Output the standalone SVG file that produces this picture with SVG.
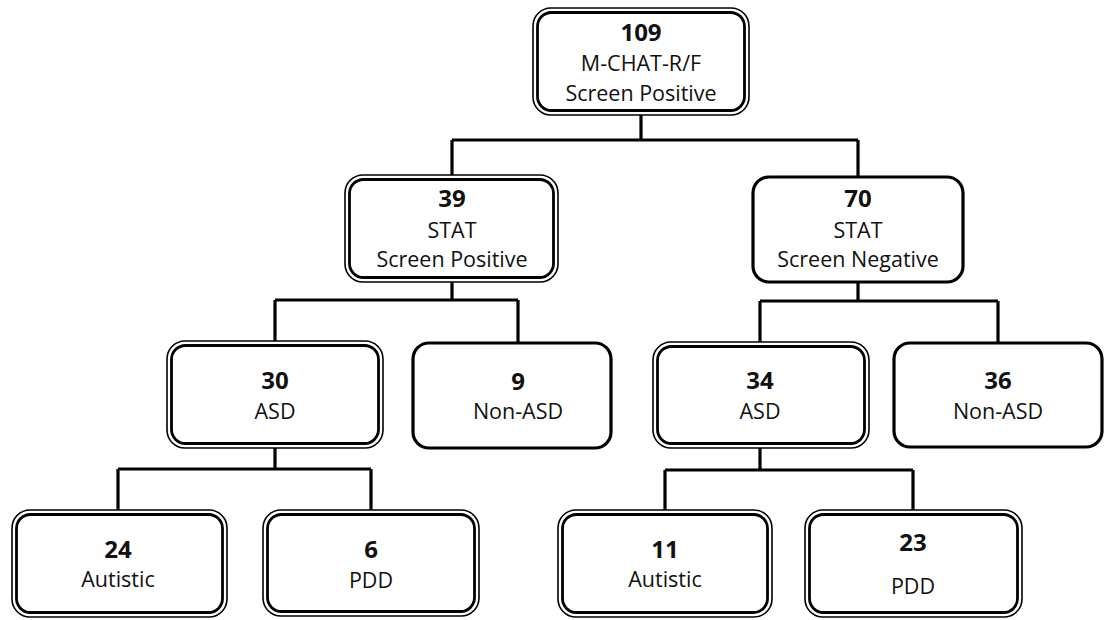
<svg xmlns="http://www.w3.org/2000/svg" width="1105" height="620" viewBox="0 0 1105 620">
<style>
.bg{fill:#fff}
.outer{fill:#fff;stroke:#000;stroke-width:1.6}
.inner{fill:none;stroke:#000;stroke-width:2.8}
.single{fill:#fff;stroke:#000;stroke-width:3.2}
.conn{fill:none;stroke:#000;stroke-width:3.2}
text{font-family:"Open Sans","Liberation Sans",sans-serif;fill:#111;text-anchor:middle}
.num{font-weight:bold;font-size:24px}
.lbl{font-size:21.5px}
</style>
<rect class="bg" x="0" y="0" width="1105" height="620"/>
<g id="connectors">
<path class="conn" d="M641 115 V140 M452 140 H858 M452 140 V175 M858 140 V177"/>
<path class="conn" d="M452 282 V300 M275 300 H518 M275 300 V341 M518 300 V343"/>
<path class="conn" d="M858 282 V301 M760 301 H998 M760 301 V342 M998 301 V343"/>
<path class="conn" d="M275 448 V469 M118 469 H371 M118 469 V510 M371 469 V510"/>
<path class="conn" d="M760 448 V470 M665 470 H913 M665 470 V510 M913 470 V510"/>
</g>
<g id="n109">
<rect class="outer" x="533" y="8" width="216" height="107" rx="18"/>
<rect class="inner" x="537.5" y="12.5" width="207" height="98" rx="14"/>
<text class="num" x="641" y="41">109</text>
<text class="lbl" x="641" y="71">M-CHAT-R/F</text>
<text class="lbl" x="641" y="100.5">Screen Positive</text>
</g>
<g id="n39">
<rect class="outer" x="345" y="175" width="213" height="107" rx="18"/>
<rect class="inner" x="349.5" y="179.5" width="204" height="98" rx="14"/>
<text class="num" x="452" y="207">39</text>
<text class="lbl" x="452" y="237.5">STAT</text>
<text class="lbl" x="452" y="267">Screen Positive</text>
</g>
<g id="n70">
<rect class="single" x="753" y="177" width="210" height="105" rx="16"/>
<text class="num" x="858" y="207">70</text>
<text class="lbl" x="858" y="237.5">STAT</text>
<text class="lbl" x="858" y="267">Screen Negative</text>
</g>
<g id="n30">
<rect class="outer" x="167" y="341" width="216" height="107" rx="18"/>
<rect class="inner" x="171.5" y="345.5" width="207" height="98" rx="14"/>
<text class="num" x="275" y="389">30</text>
<text class="lbl" x="275" y="419">ASD</text>
</g>
<g id="n9">
<rect class="single" x="413" y="343" width="198" height="105" rx="16"/>
<text class="num" x="518" y="390">9</text>
<text class="lbl" x="518" y="419">Non-ASD</text>
</g>
<g id="n34">
<rect class="outer" x="653" y="342" width="216" height="106" rx="18"/>
<rect class="inner" x="657.5" y="346.5" width="207" height="97" rx="14"/>
<text class="num" x="760" y="389">34</text>
<text class="lbl" x="760" y="419">ASD</text>
</g>
<g id="n36">
<rect class="single" x="894" y="343" width="208" height="104" rx="16"/>
<text class="num" x="998" y="389">36</text>
<text class="lbl" x="998" y="419">Non-ASD</text>
</g>
<g id="n24">
<rect class="outer" x="12" y="510" width="215" height="107" rx="18"/>
<rect class="inner" x="16.5" y="514.5" width="206" height="98" rx="14"/>
<text class="num" x="118" y="558">24</text>
<text class="lbl" x="118" y="587">Autistic</text>
</g>
<g id="n6">
<rect class="outer" x="263" y="510" width="216" height="106" rx="18"/>
<rect class="inner" x="267.5" y="514.5" width="207" height="97" rx="14"/>
<text class="num" x="371" y="558">6</text>
<text class="lbl" x="371" y="588">PDD</text>
</g>
<g id="n11">
<rect class="outer" x="558" y="510" width="214" height="107" rx="18"/>
<rect class="inner" x="562.5" y="514.5" width="205" height="98" rx="14"/>
<text class="num" x="665" y="558">11</text>
<text class="lbl" x="665" y="587">Autistic</text>
</g>
<g id="n23">
<rect class="outer" x="805" y="510" width="217" height="107" rx="18"/>
<rect class="inner" x="809.5" y="514.5" width="208" height="98" rx="14"/>
<text class="num" x="913" y="551">23</text>
<text class="lbl" x="913" y="594">PDD</text>
</g>
</svg>
